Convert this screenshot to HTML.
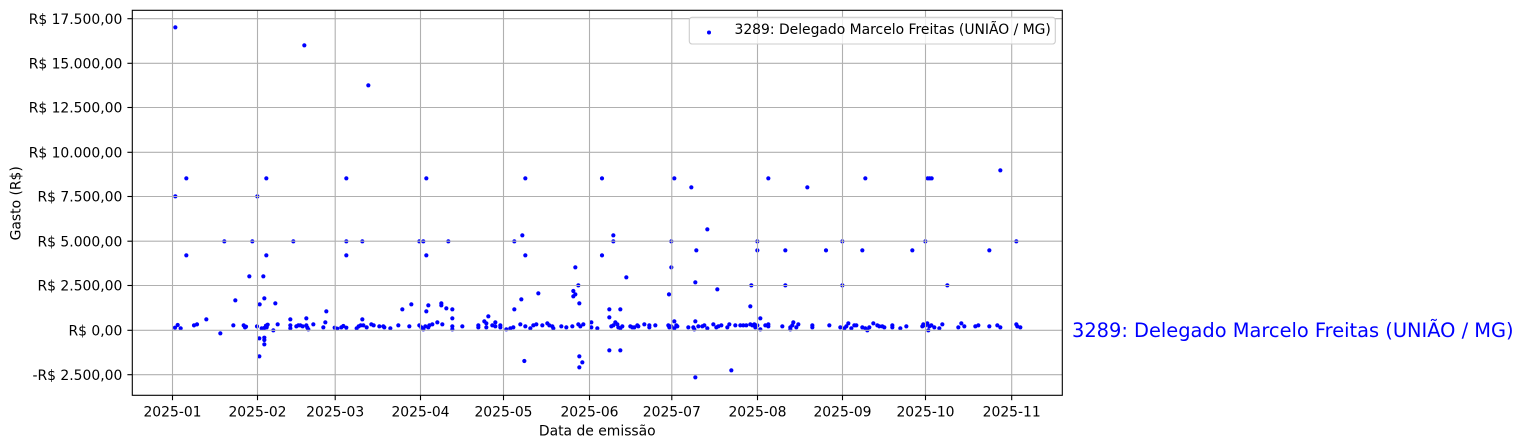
<!DOCTYPE html>
<html><head><meta charset="utf-8"><style>
html,body{margin:0;padding:0;background:#fff;}
svg{display:block;font-family:"DejaVu Sans","Liberation Sans",sans-serif;}
</style></head><body>
<svg width="1524" height="448" viewBox="0 0 1524 448" xmlns="http://www.w3.org/2000/svg">
<rect x="0" y="0" width="1524" height="448" fill="#fff"/>
<g fill="#0000ff">
<!-- zoom1: upper dots x<395 -->
<g transform="scale(0.333333)">
<circle cx="526" cy="82" r="6.3"/><circle cx="526" cy="589" r="6.3"/><circle cx="559" cy="535" r="6.3"/><circle cx="559" cy="766" r="6.3"/><circle cx="913" cy="136" r="6.3"/><circle cx="1105" cy="256" r="6.3"/><circle cx="799" cy="535" r="6.3"/><circle cx="772" cy="589" r="6.3"/><circle cx="673" cy="724" r="6.3"/><circle cx="757" cy="724" r="6.3"/><circle cx="880" cy="724" r="6.3"/><circle cx="1039" cy="535" r="6.3"/><circle cx="1039" cy="724" r="6.3"/><circle cx="1039" cy="766" r="6.3"/><circle cx="1087" cy="724" r="6.3"/><circle cx="799" cy="766" r="6.3"/><circle cx="748" cy="829" r="6.3"/><circle cx="790" cy="829" r="6.3"/><circle cx="706" cy="901" r="6.3"/><circle cx="793" cy="895" r="6.3"/>
</g>
<!-- zoom2: zero band x<395 -->
<g transform="translate(130,300) scale(0.333333)">
<circle cx="135" cy="83" r="6.3"/><circle cx="143" cy="75" r="6.3"/><circle cx="152" cy="85" r="6.3"/><circle cx="192" cy="76" r="6.3"/><circle cx="201" cy="73" r="6.3"/><circle cx="229" cy="58" r="6.3"/><circle cx="271" cy="100" r="6.3"/><circle cx="310" cy="76" r="6.3"/><circle cx="341" cy="76" r="6.3"/><circle cx="348" cy="80" r="6.3"/><circle cx="345" cy="82" r="6.3"/><circle cx="381" cy="79" r="6.3"/><circle cx="388" cy="115" r="6.3"/><circle cx="388" cy="169" r="6.3"/><circle cx="389" cy="13" r="6.3"/><circle cx="395" cy="85" r="6.3"/><circle cx="403" cy="84" r="6.3"/><circle cx="408" cy="77" r="6.3"/><circle cx="413" cy="74" r="6.3"/><circle cx="410" cy="82" r="6.3"/><circle cx="403" cy="113" r="6.3"/><circle cx="403" cy="120" r="6.3"/><circle cx="403" cy="133" r="6.3"/><circle cx="430" cy="91" r="6.3"/><circle cx="436" cy="10" r="6.3"/><circle cx="443" cy="73" r="6.3"/><circle cx="481" cy="58" r="6.3"/><circle cx="481" cy="76" r="6.3"/><circle cx="481" cy="85" r="6.3"/><circle cx="499" cy="79" r="6.3"/><circle cx="505" cy="76" r="6.3"/><circle cx="511" cy="76" r="6.3"/><circle cx="518" cy="79" r="6.3"/><circle cx="529" cy="55" r="6.3"/><circle cx="529" cy="76" r="6.3"/><circle cx="532" cy="83" r="6.3"/><circle cx="535" cy="88" r="6.3"/><circle cx="550" cy="73" r="6.3"/><circle cx="580" cy="82" r="6.3"/><circle cx="586" cy="67" r="6.3"/><circle cx="589" cy="34" r="6.3"/><circle cx="614" cy="83" r="6.3"/><circle cx="622" cy="86" r="6.3"/><circle cx="634" cy="82" r="6.3"/><circle cx="640" cy="78" r="6.3"/><circle cx="649" cy="83" r="6.3"/><circle cx="680" cy="85" r="6.3"/><circle cx="686" cy="79" r="6.3"/><circle cx="692" cy="76" r="6.3"/><circle cx="697" cy="58" r="6.3"/><circle cx="700" cy="76" r="6.3"/><circle cx="710" cy="82" r="6.3"/><circle cx="724" cy="73" r="6.3"/><circle cx="731" cy="76" r="6.3"/><circle cx="748" cy="79" r="6.3"/><circle cx="760" cy="79" r="6.3"/><circle cx="763" cy="82" r="6.3"/><circle cx="781" cy="85" r="6.3"/>
</g>
<!-- zoom5: x 395-635 -->
<g transform="translate(395,0) scale(0.333333)">
<circle cx="94" cy="535" r="6.3"/><circle cx="73" cy="724" r="6.3"/><circle cx="85" cy="724" r="6.3"/><circle cx="94" cy="766" r="6.3"/><circle cx="160" cy="724" r="6.3"/><circle cx="391" cy="535" r="6.3"/><circle cx="358" cy="724" r="6.3"/><circle cx="382" cy="706" r="6.3"/><circle cx="391" cy="766" r="6.3"/><circle cx="621" cy="535" r="6.3"/><circle cx="621" cy="766" r="6.3"/><circle cx="655" cy="706" r="6.3"/><circle cx="655" cy="724" r="6.3"/><circle cx="541" cy="802" r="6.3"/><circle cx="550" cy="856" r="6.3"/><circle cx="694" cy="832" r="6.3"/><circle cx="535" cy="873" r="6.3"/><circle cx="541" cy="883" r="6.3"/><circle cx="535" cy="889" r="6.3"/><circle cx="553" cy="910" r="6.3"/><circle cx="430" cy="880" r="6.3"/><circle cx="379" cy="898" r="6.3"/><circle cx="358" cy="928" r="6.3"/><circle cx="643" cy="928" r="6.3"/><circle cx="676" cy="928" r="6.3"/><circle cx="643" cy="952" r="6.3"/><circle cx="22" cy="928" r="6.3"/><circle cx="49" cy="913" r="6.3"/><circle cx="94" cy="934" r="6.3"/><circle cx="100" cy="916" r="6.3"/><circle cx="139" cy="910" r="6.3"/><circle cx="139" cy="916" r="6.3"/><circle cx="154" cy="925" r="6.3"/><circle cx="172" cy="928" r="6.3"/><circle cx="172" cy="955" r="6.3"/><circle cx="280" cy="949" r="6.3"/><circle cx="268" cy="964" r="6.3"/><circle cx="274" cy="970" r="6.3"/><circle cx="127" cy="967" r="6.3"/><circle cx="301" cy="967" r="6.3"/>
<circle cx="10" cy="976" r="6.3"/><circle cx="43" cy="979" r="6.3"/><circle cx="73" cy="976" r="6.3"/><circle cx="79" cy="982" r="6.3"/><circle cx="85" cy="988" r="6.3"/><circle cx="91" cy="979" r="6.3"/><circle cx="100" cy="982" r="6.3"/><circle cx="103" cy="976" r="6.3"/><circle cx="112" cy="973" r="6.3"/><circle cx="142" cy="973" r="6.3"/><circle cx="172" cy="979" r="6.3"/><circle cx="172" cy="988" r="6.3"/><circle cx="202" cy="979" r="6.3"/><circle cx="250" cy="982" r="6.3"/><circle cx="250" cy="976" r="6.3"/><circle cx="274" cy="982" r="6.3"/><circle cx="292" cy="976" r="6.3"/><circle cx="301" cy="979" r="6.3"/><circle cx="316" cy="976" r="6.3"/><circle cx="316" cy="982" r="6.3"/><circle cx="334" cy="988" r="6.3"/><circle cx="346" cy="985" r="6.3"/><circle cx="355" cy="982" r="6.3"/><circle cx="376" cy="973" r="6.3"/><circle cx="391" cy="979" r="6.3"/><circle cx="406" cy="985" r="6.3"/><circle cx="415" cy="976" r="6.3"/><circle cx="424" cy="973" r="6.3"/><circle cx="442" cy="976" r="6.3"/><circle cx="457" cy="970" r="6.3"/><circle cx="463" cy="976" r="6.3"/><circle cx="472" cy="979" r="6.3"/><circle cx="475" cy="985" r="6.3"/><circle cx="499" cy="979" r="6.3"/><circle cx="514" cy="982" r="6.3"/><circle cx="532" cy="979" r="6.3"/><circle cx="550" cy="973" r="6.3"/><circle cx="556" cy="979" r="6.3"/><circle cx="565" cy="973" r="6.3"/><circle cx="589" cy="982" r="6.3"/><circle cx="589" cy="967" r="6.3"/><circle cx="607" cy="985" r="6.3"/><circle cx="649" cy="979" r="6.3"/><circle cx="655" cy="976" r="6.3"/><circle cx="661" cy="967" r="6.3"/><circle cx="667" cy="973" r="6.3"/><circle cx="670" cy="982" r="6.3"/><circle cx="676" cy="985" r="6.3"/><circle cx="682" cy="979" r="6.3"/><circle cx="706" cy="979" r="6.3"/><circle cx="712" cy="982" r="6.3"/><circle cx="718" cy="982" r="6.3"/>
<circle cx="388" cy="1083" r="6.3"/><circle cx="553" cy="1069" r="6.3"/><circle cx="562" cy="1087" r="6.3"/><circle cx="553" cy="1102" r="6.3"/><circle cx="643" cy="1051" r="6.3"/><circle cx="676" cy="1051" r="6.3"/>
</g>
<!-- zoom6: x 635-820 -->
<g transform="translate(635,0) scale(0.333333)">
<circle cx="118" cy="535" r="6.3"/><circle cx="169" cy="562" r="6.3"/><circle cx="217" cy="688" r="6.3"/><circle cx="109" cy="724" r="6.3"/><circle cx="184" cy="751" r="6.3"/><circle cx="109" cy="802" r="6.3"/><circle cx="181" cy="847" r="6.3"/><circle cx="247" cy="868" r="6.3"/><circle cx="102" cy="883" r="6.3"/><circle cx="400" cy="535" r="6.3"/><circle cx="517" cy="562" r="6.3"/><circle cx="367" cy="724" r="6.3"/><circle cx="367" cy="751" r="6.3"/><circle cx="451" cy="751" r="6.3"/><circle cx="349" cy="856" r="6.3"/><circle cx="451" cy="856" r="6.3"/><circle cx="346" cy="919" r="6.3"/><circle cx="376" cy="955" r="6.3"/><circle cx="118" cy="964" r="6.3"/><circle cx="181" cy="964" r="6.3"/><circle cx="475" cy="967" r="6.3"/>
<circle cx="181" cy="1132" r="6.3"/><circle cx="289" cy="1111" r="6.3"/>
<circle cx="7" cy="976" r="6.3"/><circle cx="10" cy="979" r="6.3"/><circle cx="28" cy="973" r="6.3"/><circle cx="43" cy="976" r="6.3"/><circle cx="43" cy="982" r="6.3"/><circle cx="61" cy="976" r="6.3"/><circle cx="100" cy="976" r="6.3"/><circle cx="103" cy="982" r="6.3"/><circle cx="109" cy="979" r="6.3"/><circle cx="118" cy="985" r="6.3"/><circle cx="124" cy="976" r="6.3"/><circle cx="127" cy="979" r="6.3"/><circle cx="160" cy="982" r="6.3"/><circle cx="175" cy="982" r="6.3"/><circle cx="178" cy="988" r="6.3"/><circle cx="190" cy="979" r="6.3"/><circle cx="202" cy="979" r="6.3"/><circle cx="208" cy="976" r="6.3"/><circle cx="217" cy="985" r="6.3"/><circle cx="235" cy="973" r="6.3"/><circle cx="244" cy="982" r="6.3"/><circle cx="250" cy="979" r="6.3"/><circle cx="259" cy="976" r="6.3"/><circle cx="277" cy="982" r="6.3"/><circle cx="283" cy="973" r="6.3"/><circle cx="301" cy="976" r="6.3"/><circle cx="316" cy="976" r="6.3"/><circle cx="325" cy="976" r="6.3"/><circle cx="334" cy="976" r="6.3"/><circle cx="346" cy="973" r="6.3"/><circle cx="352" cy="976" r="6.3"/><circle cx="358" cy="973" r="6.3"/><circle cx="361" cy="982" r="6.3"/><circle cx="367" cy="976" r="6.3"/><circle cx="376" cy="988" r="6.3"/><circle cx="391" cy="976" r="6.3"/><circle cx="400" cy="973" r="6.3"/><circle cx="400" cy="979" r="6.3"/><circle cx="442" cy="979" r="6.3"/><circle cx="466" cy="982" r="6.3"/><circle cx="466" cy="988" r="6.3"/><circle cx="472" cy="976" r="6.3"/><circle cx="484" cy="982" r="6.3"/><circle cx="490" cy="973" r="6.3"/><circle cx="532" cy="976" r="6.3"/><circle cx="532" cy="982" r="6.3"/>
</g>
<!-- zoom3: x 820+ -->
<g transform="translate(820,0) scale(0.333333)">
<circle cx="136" cy="535" r="6.3"/><circle cx="323" cy="535" r="6.3"/><circle cx="329" cy="535" r="6.3"/><circle cx="335" cy="535" r="6.3"/><circle cx="541" cy="511" r="6.3"/><circle cx="18" cy="751" r="6.3"/><circle cx="127" cy="751" r="6.3"/><circle cx="277" cy="751" r="6.3"/><circle cx="508" cy="751" r="6.3"/><circle cx="67" cy="724" r="6.3"/><circle cx="316" cy="724" r="6.3"/><circle cx="589" cy="724" r="6.3"/><circle cx="67" cy="856" r="6.3"/><circle cx="382" cy="856" r="6.3"/>
<circle cx="28" cy="976" r="6.3"/><circle cx="61" cy="982" r="6.3"/><circle cx="73" cy="985" r="6.3"/><circle cx="79" cy="979" r="6.3"/><circle cx="85" cy="970" r="6.3"/><circle cx="94" cy="985" r="6.3"/><circle cx="103" cy="976" r="6.3"/><circle cx="109" cy="976" r="6.3"/><circle cx="127" cy="982" r="6.3"/><circle cx="136" cy="985" r="6.3"/><circle cx="142" cy="991" r="6.3"/><circle cx="148" cy="982" r="6.3"/><circle cx="160" cy="970" r="6.3"/><circle cx="172" cy="976" r="6.3"/><circle cx="178" cy="979" r="6.3"/><circle cx="187" cy="979" r="6.3"/><circle cx="193" cy="982" r="6.3"/><circle cx="217" cy="976" r="6.3"/><circle cx="217" cy="982" r="6.3"/><circle cx="241" cy="985" r="6.3"/><circle cx="259" cy="979" r="6.3"/><circle cx="307" cy="979" r="6.3"/><circle cx="310" cy="973" r="6.3"/><circle cx="316" cy="976" r="6.3"/><circle cx="322" cy="970" r="6.3"/><circle cx="325" cy="991" r="6.3"/><circle cx="328" cy="979" r="6.3"/><circle cx="334" cy="976" r="6.3"/><circle cx="343" cy="982" r="6.3"/><circle cx="358" cy="985" r="6.3"/><circle cx="367" cy="973" r="6.3"/><circle cx="415" cy="982" r="6.3"/><circle cx="424" cy="970" r="6.3"/><circle cx="433" cy="979" r="6.3"/><circle cx="466" cy="979" r="6.3"/><circle cx="475" cy="976" r="6.3"/><circle cx="508" cy="979" r="6.3"/><circle cx="532" cy="976" r="6.3"/><circle cx="541" cy="982" r="6.3"/><circle cx="589" cy="973" r="6.3"/><circle cx="592" cy="979" r="6.3"/><circle cx="601" cy="982" r="6.3"/>
</g>
</g>

<!-- grid (on top of scatter, as in matplotlib default) -->
<g stroke="#b0b0b0" stroke-width="1.1" fill="none">
<line x1="132.3" x2="1062.3" y1="18.7" y2="18.7"/>
<line x1="132.3" x2="1062.3" y1="63.3" y2="63.3"/>
<line x1="132.3" x2="1062.3" y1="107.5" y2="107.5"/>
<line x1="132.3" x2="1062.3" y1="152.3" y2="152.3"/>
<line x1="132.3" x2="1062.3" y1="196.5" y2="196.5"/>
<line x1="132.3" x2="1062.3" y1="241.2" y2="241.2"/>
<line x1="132.3" x2="1062.3" y1="285.5" y2="285.5"/>
<line x1="132.3" x2="1062.3" y1="330.3" y2="330.3"/>
<line x1="132.3" x2="1062.3" y1="374.7" y2="374.7"/>
<line y1="10.3" y2="395.3" x1="172.5" x2="172.5"/>
<line y1="10.3" y2="395.3" x1="257.5" x2="257.5"/>
<line y1="10.3" y2="395.3" x1="335.2" x2="335.2"/>
<line y1="10.3" y2="395.3" x1="420.5" x2="420.5"/>
<line y1="10.3" y2="395.3" x1="503.5" x2="503.5"/>
<line y1="10.3" y2="395.3" x1="589.5" x2="589.5"/>
<line y1="10.3" y2="395.3" x1="671.8" x2="671.8"/>
<line y1="10.3" y2="395.3" x1="757.5" x2="757.5"/>
<line y1="10.3" y2="395.3" x1="842.5" x2="842.5"/>
<line y1="10.3" y2="395.3" x1="925.5" x2="925.5"/>
<line y1="10.3" y2="395.3" x1="1011.7" x2="1011.7"/>
</g>

<!-- spines -->
<rect x="132.3" y="10.3" width="930" height="385" fill="none" stroke="#000" stroke-width="1.1"/>

<!-- ticks -->
<g stroke="#000" stroke-width="1.1">
<line x1="127.4" x2="132.3" y1="18.7" y2="18.7"/>
<line x1="127.4" x2="132.3" y1="63.3" y2="63.3"/>
<line x1="127.4" x2="132.3" y1="107.5" y2="107.5"/>
<line x1="127.4" x2="132.3" y1="152.3" y2="152.3"/>
<line x1="127.4" x2="132.3" y1="196.5" y2="196.5"/>
<line x1="127.4" x2="132.3" y1="241.2" y2="241.2"/>
<line x1="127.4" x2="132.3" y1="285.5" y2="285.5"/>
<line x1="127.4" x2="132.3" y1="330.3" y2="330.3"/>
<line x1="127.4" x2="132.3" y1="374.7" y2="374.7"/>
<line y1="395.3" y2="400.2" x1="172.5" x2="172.5"/>
<line y1="395.3" y2="400.2" x1="257.5" x2="257.5"/>
<line y1="395.3" y2="400.2" x1="335.2" x2="335.2"/>
<line y1="395.3" y2="400.2" x1="420.5" x2="420.5"/>
<line y1="395.3" y2="400.2" x1="503.5" x2="503.5"/>
<line y1="395.3" y2="400.2" x1="589.5" x2="589.5"/>
<line y1="395.3" y2="400.2" x1="671.8" x2="671.8"/>
<line y1="395.3" y2="400.2" x1="757.5" x2="757.5"/>
<line y1="395.3" y2="400.2" x1="842.5" x2="842.5"/>
<line y1="395.3" y2="400.2" x1="925.5" x2="925.5"/>
<line y1="395.3" y2="400.2" x1="1011.7" x2="1011.7"/>
</g>

<!-- y tick labels -->
<g font-size="13.9" fill="#000" text-anchor="end">
<text x="122.3" y="23.8">R$ 17.500,00</text>
<text x="122.3" y="68.4">R$ 15.000,00</text>
<text x="122.3" y="112.6">R$ 12.500,00</text>
<text x="122.3" y="157.4">R$ 10.000,00</text>
<text x="122.3" y="201.6">R$ 7.500,00</text>
<text x="122.3" y="246.3">R$ 5.000,00</text>
<text x="122.3" y="290.6">R$ 2.500,00</text>
<text x="122.3" y="335.4">R$ 0,00</text>
<text x="122.3" y="379.8">-R$ 2.500,00</text>
</g>

<!-- x tick labels -->
<g font-size="13.9" fill="#000" text-anchor="middle">
<text x="172.5" y="416.7">2025-01</text>
<text x="257.5" y="416.7">2025-02</text>
<text x="335.2" y="416.7">2025-03</text>
<text x="420.5" y="416.7">2025-04</text>
<text x="503.5" y="416.7">2025-05</text>
<text x="589.5" y="416.7">2025-06</text>
<text x="671.8" y="416.7">2025-07</text>
<text x="757.5" y="416.7">2025-08</text>
<text x="842.5" y="416.7">2025-09</text>
<text x="925.5" y="416.7">2025-10</text>
<text x="1011.7" y="416.7">2025-11</text>
</g>

<!-- axis labels -->
<text x="597.3" y="435.3" font-size="13.9" text-anchor="middle" fill="#000">Data de emissão</text>
<text transform="translate(20.3,203.3) rotate(-90)" font-size="13.9" text-anchor="middle" fill="#000">Gasto (R$)</text>

<!-- legend -->
<rect x="689.3" y="17.3" width="366" height="26.7" rx="2.8" ry="2.8" fill="#ffffff" fill-opacity="0.8" stroke="#cccccc" stroke-width="1.1"/>
<circle cx="709" cy="32.5" r="2" fill="#0000ff"/>
<text x="734.5" y="34.2" font-size="13.9" fill="#000">3289: Delegado Marcelo Freitas (UNIÃO / MG)</text>

<!-- right annotation -->
<text x="1072" y="336.8" font-size="19.4" fill="#0000ff">3289: Delegado Marcelo Freitas (UNIÃO / MG)</text>
</svg>
</body></html>
